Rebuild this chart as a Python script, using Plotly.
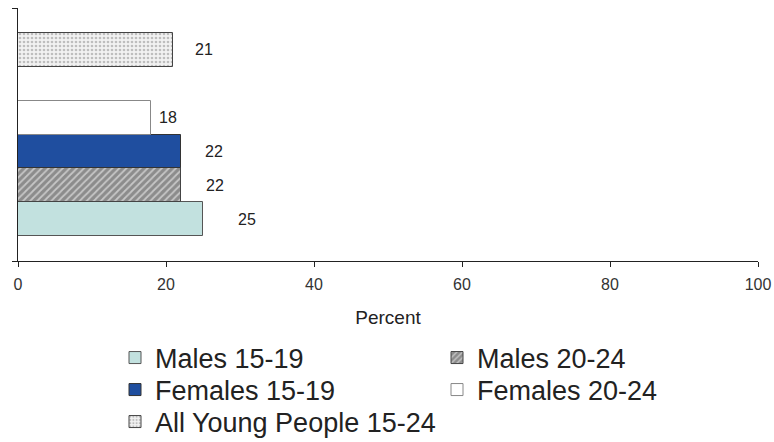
import plotly.graph_objects as go

# ---- data ----
series_names = ["Males 15-19", "Males 20-24", "Females 15-19", "Females 20-24", "All Young People 15-24"]
series_values = [25, 22, 22, 18, 21]
# category slots (bottom to top); " " is the spacer slot
y_categories = ["Males 15-19", "Males 20-24", "Females 15-19", "Females 20-24", " ", "All Young People 15-24"]
x_ticks = [0, 20, 40, 60, 80, 100]
x_title = "Percent"

# ---- styles ----
FONT = "Liberation Sans, Arial, sans-serif"
fills = ["#C2E1DF", "#FFFFFF", "#1F4E9F", "#FFFFFF", "#FFFFFF"]
outlines = ["#555555", "#444444", "#333333", "#888888", "#444444"]
patterns = [
    dict(shape=""),
    dict(shape="/", fgcolor="#FFFFFF", bgcolor="#8C8C8C", size=5, solidity=0.35),
    dict(shape=""),
    dict(shape=""),
    dict(shape=".", fgcolor="#8A8A8A", bgcolor="#F2F2F2", size=4, solidity=0.35),
]
legend_rows = ["legend", "legend", "legend2", "legend2", "legend3"]
label_shift = [33, 23, 22, 6, 20]

fig = go.Figure()
for name, val, fc, lc, pat, lg in zip(series_names, series_values, fills, outlines, patterns, legend_rows):
    fig.add_trace(go.Bar(
        x=[val], y=[name], orientation="h", name=name, legend=lg,
        marker=dict(color=fc, line=dict(color=lc, width=1), pattern=pat),
        hoverinfo="skip",
    ))

for name, val, sh in zip(series_names, series_values, label_shift):
    fig.add_annotation(x=val, y=name, text=str(val), showarrow=False,
                       xanchor="left", xshift=sh,
                       font=dict(family=FONT, size=16, color="#222222"))

# helper axis: draws the left axis line with ticks at both ends
fig.add_trace(go.Scatter(x=[None], y=[None], yaxis="y2", showlegend=False, hoverinfo="skip"))

legend_common = dict(
    orientation="h", traceorder="normal", xanchor="left", yanchor="middle",
    xref="container", yref="container",
    font=dict(family=FONT, size=27, color="#222222"),
    entrywidth=277, entrywidthmode="pixels", itemwidth=30,
    bgcolor="rgba(0,0,0,0)",
)

fig.update_layout(
    width=774, height=442,
    margin=dict(l=18, r=16, t=8, b=181, autoexpand=False),
    paper_bgcolor="white", plot_bgcolor="white",
    barmode="overlay", bargap=0,
    showlegend=True,
    legend=dict(legend_common, x=115 / 774, y=1 - 358 / 442),
    legend2=dict(legend_common, x=115 / 774, y=1 - 390 / 442),
    legend3=dict(legend_common, x=115 / 774, y=1 - 422 / 442),
    xaxis=dict(
        range=[0, 100], tickvals=x_ticks, ticks="outside", ticklen=5,
        tickcolor="#222222", showline=True, linecolor="#222222", linewidth=1,
        showgrid=False, zeroline=False, ticklabelstandoff=4,
        tickfont=dict(family=FONT, size=16, color="#333333"),
        title=dict(text=x_title, font=dict(family=FONT, size=19, color="#222222"), standoff=18),
    ),
    yaxis=dict(
        type="category", categoryorder="array", categoryarray=y_categories,
        range=[-0.5 - 25 / 34, 5.5 + 25 / 34],
        showticklabels=False, ticks="", showgrid=False, zeroline=False, showline=False,
    ),
    yaxis2=dict(
        overlaying="y", range=[0, 1], tickvals=[0, 1], ticks="outside", ticklen=5,
        tickcolor="#222222", showticklabels=False, showline=True, linecolor="#222222",
        linewidth=1, showgrid=False, zeroline=False, side="left",
    ),
)

fig.write_html(
    "out.html",
    config={"displayModeBar": False},
    post_script="document.body.style.margin='0';document.body.style.overflow='hidden';",
)
